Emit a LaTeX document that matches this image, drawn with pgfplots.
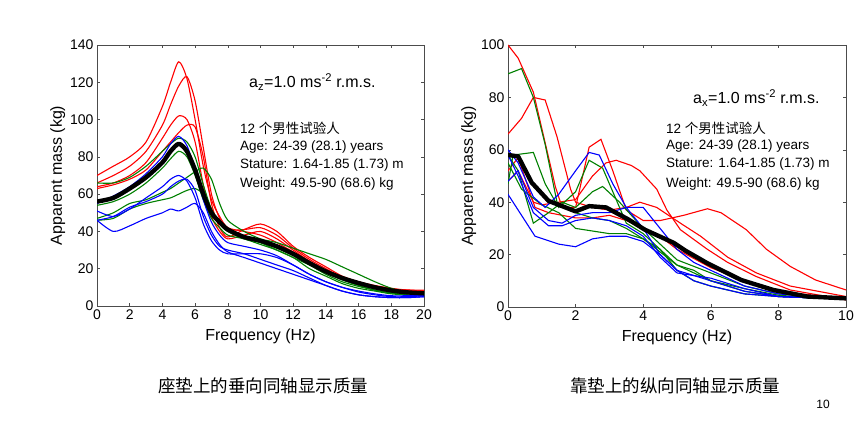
\documentclass[border=0pt]{standalone}
\usepackage{pgfplots}
\pgfplotsset{compat=1.18}
\usepackage{fontspec}
\setmainfont{Liberation Sans}
\newfontfamily\cjk{Noto Sans CJK SC}
\definecolor{mred}{RGB}{255,0,0}
\definecolor{mgreen}{RGB}{0,128,0}
\definecolor{mblue}{RGB}{0,0,255}
\pgfplotsset{
  mystyle/.style={
    scale only axis,
    anchor=south west,
    tick align=inside,
    axis line style={black!70, line width=0.5pt},
    major tick length=3pt,
    tick style={black!70, line width=0.5pt},
    /pgf/number format/assume math mode=true,
    tick label style={font=\fontsize{14}{14}\selectfont},
    label style={font=\fontsize{16}{16}\selectfont},
    xlabel style={yshift=-3pt},
    ylabel style={yshift=-2pt},
    ylabel={Apparent mass (kg)},
    xlabel={Frequency (Hz)},
    every axis plot/.append style={line width=1.1pt, smooth, tension=0.45},
    clip=true,
  },
  R/.style={mred},
  G/.style={mgreen},
  B/.style={mblue},
  K/.style={black, line width=4.4pt, line join=round},
}
\begin{document}
\begin{tikzpicture}
\path[use as bounding box] (0pt,0pt) rectangle (866pt,-425pt);
% ---------- left ----------
\begin{axis}[mystyle, at={(97pt,-306pt)}, width=327pt, height=261pt,
  xmin=0, xmax=20, ymin=0, ymax=140,
  xtick={0,2,...,20}, ytick={0,20,...,140}]
% red
\addplot[R] coordinates {(0,70)(1,75)(2,80)(3,88)(4,107)(4.5,120)(5,131)(5.5,122)(6,100)(6.5,75)(7,57)(7.5,48)(8,42)(9,40)(10,38)(11,34)(12,29)(13,24)(14,19)(15,15)(16,12.5)(17,10.5)(18,9)(19,8.5)(20,8.5)};
\addplot[R] coordinates {(0,66)(1,70)(2,75)(3,83)(4,97)(4.5,108)(5,118)(5.5,123)(6,110)(6.5,85)(7,60)(7.5,47)(8,41)(9,41)(10,42)(11,38)(12,31)(13,25)(14,20)(15,15.5)(16,13)(17,10.5)(18,9)(19,8.5)(20,8)};
\addplot[R] coordinates {(0,64)(1,66)(2,70)(3,77)(4,90)(4.5,97)(5,102)(5.5,100)(6,88)(6.5,65)(7,48)(7.5,40)(8,36)(9,38)(10,40)(11,36)(12,30)(13,24)(14,19)(15,15)(16,12.5)(17,10.5)(18,9)(19,8.5)(20,8)};
\addplot[R] coordinates {(0,63)(1,65)(2,68)(3,73)(4,83)(4.5,88)(5,93)(5.5,97)(6,96)(6.5,80)(7,55)(7.5,42)(8,37)(9,41)(10,44)(11,40)(12,32)(13,26)(14,21)(15,16)(16,13)(17,11)(18,9.5)(19,8.5)(20,8)};
% green
\addplot[G] coordinates {(0,66)(1,66)(2,69)(3,75)(4,83)(4.5,87)(5,90)(5.5,88)(6,80)(6.5,65)(7,52)(7.5,45)(8,40)(9,36)(10,34)(11,31)(12,27)(13,22)(14,17)(15,13)(16,10.5)(17,8.5)(18,7)(19,6.5)(20,6.5)};
\addplot[G] coordinates {(0,54)(1,56)(2,60)(3,66)(4,74)(4.5,79)(5,83)(5.5,80)(6,70)(6.5,57)(7,47)(7.5,42)(8,38)(9,36)(10,33)(11,30)(12,26)(13,20)(14,16)(15,12)(16,9.5)(17,8)(18,6.5)(19,6)(20,6)};
\addplot[G] coordinates {(0,47)(1,50)(2,55)(3,57)(4,61)(4.5,63)(5,66)(5.5,69)(6,72)(6.5,74)(7,68)(7.5,55)(8,46)(9,40)(10,36)(11,34)(12,31)(13,28)(14,25)(15,21)(16,17)(17,13)(18,9.5)(19,7.5)(20,7)};
\addplot[G] coordinates {(0,46)(1,47)(2,52)(3,55)(4,57)(4.5,58)(5,60)(5.5,62)(6,63)(6.5,60)(7,52)(7.5,44)(8,40)(9,37)(10,34)(11,30)(12,26)(13,22)(14,18)(15,14)(16,11)(17,8.5)(18,7)(19,6.5)(20,6.5)};
% blue
\addplot[B] coordinates {(0,55)(1,59)(2,64)(3,71)(4,80)(4.5,87)(5,91)(5.5,86)(6,73)(6.5,57)(7,45)(7.5,38)(8,34)(9,32)(10,30)(11,27)(12,22)(13,17)(14,13)(15,10)(16,8)(17,6.5)(18,5.5)(19,5.5)(20,5.5)};
\addplot[B] coordinates {(0,51)(1,48)(2,52)(3,58)(4,64)(4.5,68)(5,70)(5.5,67)(6,58)(6.5,44)(7,35)(7.5,30)(8,28)(9,28)(10,28)(11,26)(12,22)(13,17)(14,13)(15,10)(16,7.5)(17,6)(18,5)(19,5)(20,5.5)};
\addplot[B] coordinates {(0,46)(1,48)(2,53)(3,56)(4,60)(4.5,64)(5,67)(5.5,68)(6,62)(6.5,48)(7,38)(7.5,32)(8,30)(9,28)(10,25)(11,22)(12,19)(13,15)(14,11)(15,8)(16,6)(17,5)(18,4.5)(19,4.5)(20,5)};
\addplot[B] coordinates {(0,46)(1,40)(2,43)(3,47)(4,50)(4.5,52)(5,51)(5.5,53)(6,55)(6.5,50)(7,40)(7.5,33)(8,29)(9,26)(10,23)(11,20)(12,17)(13,14)(14,11)(15,8)(16,6)(17,5)(18,4.5)(19,4.5)(20,5)};
% mean
\addplot[K] coordinates {(0,56)(1,58)(2,63)(3,69)(4,77)(4.5,83)(5,87)(5.5,83)(6,73)(6.5,60)(7,50)(7.5,45)(8,41)(9,37)(10,35)(11,32)(12,28)(13,23)(14,18.5)(15,15)(16,12.3)(17,10)(18,8.3)(19,7.3)(20,6.8)};
\end{axis}
% ---------- right ----------
\begin{axis}[mystyle, at={(508pt,-307pt)}, width=338pt, height=262pt,
  xmin=0, xmax=10, ymin=0, ymax=100,
  xtick={0,2,...,10}, ytick={0,20,...,100},
  every axis plot/.append style={sharp plot}]
% red
\addplot[R] coordinates {(0,100)(0.3,95)(0.75,82)(1.4,46)(1.6,38)(2.0,38)(2.4,61)(2.75,64)(3.1,52)(3.5,37)(4,33)(4.5,33)(5.2,35)(5.9,37.5)(6.3,36)(7.05,29.5)(7.65,22)(8.35,15.5)(9.1,10.3)(10,6.5)};
\addplot[R] coordinates {(0,66)(0.4,72)(0.75,80)(1.1,79)(1.45,65)(1.85,45)(2.0,40)(2.5,38)(3,37)(3.5,38)(3.9,40)(4.4,38)(5.1,32)(5.7,27)(6.5,19)(7.35,13)(8.35,8)(10,4)};
\addplot[R] coordinates {(0,48)(0.3,52)(0.75,40)(1.0,39)(2.0,41)(2.5,50)(2.9,55)(3.2,56)(3.65,54)(3.9,52)(4.4,45)(4.7,37)(5.1,29.5)(5.9,22)(6.5,17)(7.35,11.6)(8.35,6.5)(10,2.7)};
\addplot[R] coordinates {(0,52)(0.3,57)(0.8,38)(1.2,36)(2,34)(2.5,34)(3,35)(3.5,33)(4,30)(4.5,27)(5,22)(6,15)(7,10)(8,6)(9,4.5)(10,3.5)};
% green
\addplot[G] coordinates {(0,89)(0.4,91)(0.75,80)(1.1,62)(1.45,40)(2,36)(2.5,34)(3,33)(3.5,30)(4,26)(4.5,21)(5,16)(6,10)(7,6)(8,4)(9,3.5)(10,3)};
\addplot[G] coordinates {(0,47)(0.15,58)(0.75,59)(1.1,47)(1.5,38)(2.0,44)(2.4,56)(2.8,53)(3.1,44)(3.5,32)(4,28)(4.5,22)(5,14)(5.5,10)(6,8)(7,5)(8,4)(9,3.5)(10,3)};
\addplot[G] coordinates {(0,58)(0.3,52)(0.75,32)(1.2,36)(1.6,40)(2,38)(2.5,44)(2.8,46)(3.3,40)(4,30)(4.5,24)(5,18)(6,13)(7,8)(8,5)(9,4)(10,3)};
\addplot[G] coordinates {(0,55)(0.4,45)(1,39)(1.5,36)(2,30)(2.5,29)(3,28)(3.5,28)(4,26)(4.5,22)(5,16)(5.5,14)(6,10)(7,7)(8,4.5)(9,3.5)(10,3)};
% blue
\addplot[B] coordinates {(0,60)(0.3,55)(0.75,42)(1.1,38)(1.5,43)(2,52)(2.4,59)(2.7,58)(3.1,47)(3.5,38)(4,30)(4.5,20)(5,14)(5.5,12)(6,10)(7,6)(8,4)(9,3.5)(10,3)};
\addplot[B] coordinates {(0,48)(0.3,52)(0.75,38)(1.2,33)(1.6,32)(2,35)(2.5,36)(3,36)(3.5,38)(4,38)(4.5,30)(5,22)(5.5,17)(6,14)(7,8)(8,5)(9,4)(10,3.5)};
\addplot[B] coordinates {(0,58)(0.3,50)(0.75,36)(1.2,31)(1.6,31)(2,33)(2.5,34)(3,33)(3.5,31)(4,27)(4.5,19)(5,13)(5.5,12)(6,11)(7,7)(8,4)(9,3.5)(10,3)};
\addplot[B] coordinates {(0,43)(0.4,35)(0.8,27)(1.5,24)(2,23)(2.5,26)(3,27)(3.5,27)(4,25)(4.5,20)(5,14)(5.5,10)(6,8)(7,5)(8,4)(9,3.5)(10,3)};
% mean
\addplot[K] coordinates {(0,58)(0.3,57.5)(0.7,47.5)(1.2,40.5)(2,36.5)(2.4,38.5)(2.9,38)(3.55,33.5)(4.05,29.5)(4.9,24.5)(5.25,21.5)(5.9,16.7)(6.9,10.3)(7.85,6.5)(8.85,4)(10,3.3)};
\end{axis}
% ---------- annotations ----------
\begin{scope}[every node/.style={inner sep=0pt}]
\node[anchor=west, font=\fontsize{16}{16}\selectfont] at (249pt,-82pt) {a\textsubscript{z}=1.0 ms\textsuperscript{-2} r.m.s.};
\node[anchor=west, font=\fontsize{13.5}{13.5}\selectfont] at (240pt,-128pt) {12 {\cjk 个男性试验人}};
\node[anchor=west, font=\fontsize{13.5}{13.5}\selectfont] at (240pt,-147pt) {Age: 24-39 (28.1) years};
\node[anchor=west, font=\fontsize{13.5}{13.5}\selectfont] at (240pt,-165pt) {Stature: 1.64-1.85 (1.73) m};
\node[anchor=west, font=\fontsize{13.5}{13.5}\selectfont] at (240pt,-184pt) {Weight: 49.5-90 (68.6) kg};
\node[anchor=west, font=\fontsize{16}{16}\selectfont] at (693pt,-98pt) {a\textsubscript{x}=1.0 ms\textsuperscript{-2} r.m.s.};
\node[anchor=west, font=\fontsize{13.5}{13.5}\selectfont] at (666pt,-128pt) {12 {\cjk 个男性试验人}};
\node[anchor=west, font=\fontsize{13.5}{13.5}\selectfont] at (666pt,-146pt) {Age: 24-39 (28.1) years};
\node[anchor=west, font=\fontsize{13.5}{13.5}\selectfont] at (666pt,-164pt) {Stature: 1.64-1.85 (1.73) m};
\node[anchor=west, font=\fontsize{13.5}{13.5}\selectfont] at (666pt,-184pt) {Weight: 49.5-90 (68.6) kg};
\node[font=\fontsize{17.5}{17.5}\selectfont\cjk] at (263pt,-386pt) {座垫上的垂向同轴显示质量};
\node[font=\fontsize{17.5}{17.5}\selectfont\cjk] at (675pt,-386pt) {靠垫上的纵向同轴显示质量};
\node[font=\fontsize{12}{12}\selectfont] at (823pt,-404pt) {10};
\end{scope}
\end{tikzpicture}
\end{document}
